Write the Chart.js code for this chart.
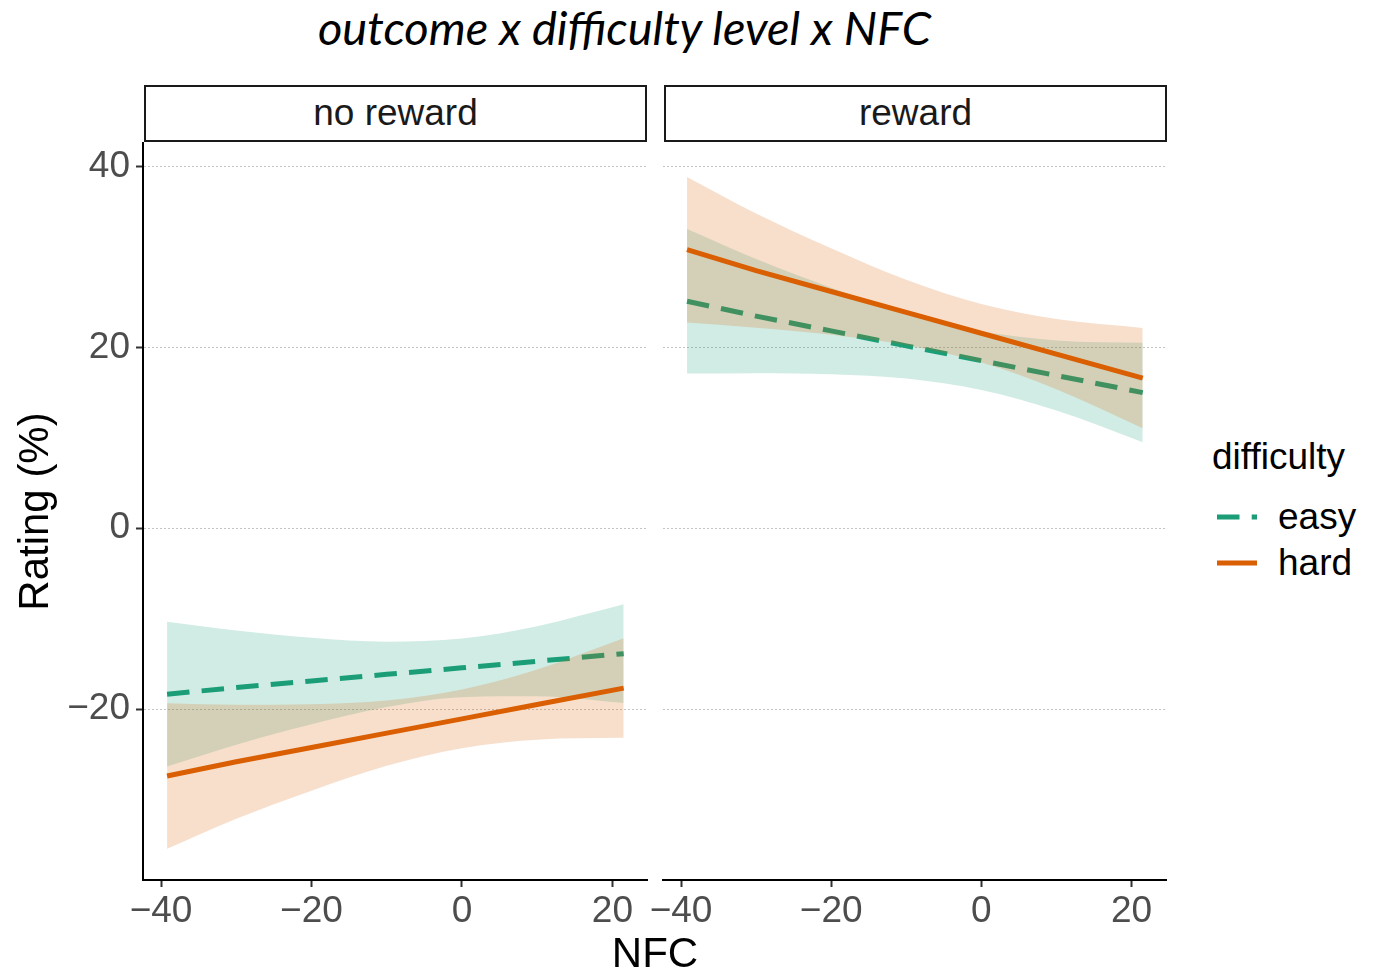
<!DOCTYPE html>
<html><head><meta charset="utf-8">
<script src="https://cdn.jsdelivr.net/npm/chart.js@4/dist/chart.umd.min.js"></script>
<style>
html,body{margin:0;padding:0;background:#fff;}
body{width:1375px;height:972px;overflow:hidden;position:relative;font-family:"Liberation Sans",Arial,sans-serif;}
#title{position:absolute;left:0;width:1249px;top:-1px;text-align:center;font-family:Lato,"Open Sans",sans-serif;font-style:italic;font-size:47px;color:#000;line-height:56px;white-space:nowrap;}
.strip{position:absolute;top:85px;height:57px;box-sizing:border-box;border:2px solid #1a1a1a;background:#fff;text-align:center;font-size:37px;line-height:52px;color:#1a1a1a;}
canvas{position:absolute;}
#xtitle{position:absolute;left:555px;width:200px;top:928px;text-align:center;font-size:42px;line-height:50px;color:#000;}
#legend{position:absolute;left:1212px;top:432px;color:#000;}
#legend .lt{font-size:37px;line-height:50px;}
#legend .row{position:relative;height:46px;}
#legend .row svg{position:absolute;left:3px;top:0;}
#legend .row span{position:absolute;left:66px;top:0;font-size:37px;line-height:46px;}
</style>
</head><body>
<div id="title">outcome x difficulty level x NFC</div>
<div class="strip" style="left:144px;width:503px;">no reward</div>
<div class="strip" style="left:664px;width:503px;">reward</div>
<canvas id="cA" width="660" height="842" style="left:0;top:130px;width:660px;height:842px;"></canvas>
<canvas id="cB" width="540" height="842" style="left:640px;top:130px;width:540px;height:842px;"></canvas>
<div id="xtitle">NFC</div>
<div id="legend">
  <div class="lt">difficulty</div>
  <div style="height:12px"></div>
  <div class="row"><svg width="50" height="46"><line x1="2" y1="23" x2="42" y2="23" stroke="#1B9E77" stroke-width="5" stroke-dasharray="22.5 12.2"/></svg><span>easy</span></div>
  <div class="row"><svg width="50" height="46"><line x1="2" y1="23" x2="42" y2="23" stroke="#D95F02" stroke-width="5"/></svg><span>hard</span></div>
</div>
<script>
// ---- data ----
const nfc = [-39.2, -30, -20, -10, 0, 10, 21.5];
const xTicks = [-40, -20, 0, 20];
const yTicks = [-20, 0, 20, 40];
const panels = ['no reward', 'reward'];
const difficulties = ['easy', 'hard'];

const noRewardEasyFit   = [-18.35, -17.62, -16.89, -16.16, -15.44, -14.71, -13.87];
const noRewardEasyLower = [-26.35, -23.93, -21.67, -19.77, -18.68, -18.59, -19.32];
const noRewardEasyUpper = [-10.35, -11.31, -12.11, -12.55, -12.20, -10.83, -8.42];

const noRewardHardFit   = [-27.40, -25.82, -24.24, -22.66, -21.08, -19.50, -17.68];
const noRewardHardLower = [-35.45, -32.13, -29.02, -26.27, -24.32, -23.38, -23.18];
const noRewardHardUpper = [-19.35, -19.51, -19.46, -19.05, -17.84, -15.62, -12.18];

const rewardEasyFit   = [25.10, 23.46, 21.82, 20.17, 18.53, 16.89, 15.00];
const rewardEasyLower = [17.10, 17.15, 17.04, 16.56, 15.29, 13.01, 9.50];
const rewardEasyUpper = [33.10, 29.77, 26.60, 23.78, 21.77, 20.77, 20.50];

const rewardHardFit   = [30.80, 28.49, 26.18, 23.87, 21.56, 19.25, 16.60];
const rewardHardLower = [22.75, 22.18, 21.40, 20.26, 18.32, 15.37, 11.05];
const rewardHardUpper = [38.85, 34.80, 30.96, 27.48, 24.80, 23.13, 22.15];

// ---- styling ----
const EASY = '#1B9E77', HARD = '#D95F02';
const EASY_FILL = 'rgba(27,158,119,0.2)', HARD_FILL = 'rgba(217,95,2,0.2)';
const FONT = 'Liberation Sans';
const pts = arr => arr.map((v, i) => ({x: nfc[i], y: v}));
const fmt = v => (v < 0 ? '\u2212' + Math.abs(v) : String(v));

function datasets(eFit, eLo, eUp, hFit, hLo, hUp) {
  const band = {pointRadius: 0, borderWidth: 0, borderColor: 'rgba(0,0,0,0)', cubicInterpolationMode: 'monotone'};
  return [
    Object.assign({label: 'easy lower', data: pts(eLo), fill: false, order: 6}, band),
    Object.assign({label: 'easy band', data: pts(eUp), fill: {target: 0}, backgroundColor: EASY_FILL, order: 5}, band),
    {label: difficulties[0], data: pts(eFit), borderColor: EASY, borderWidth: 5, borderDash: [22.5, 12.2], pointRadius: 0, fill: false, tension: 0, order: 4},
    Object.assign({label: 'hard lower', data: pts(hLo), fill: false, order: 3}, band),
    Object.assign({label: 'hard band', data: pts(hUp), fill: {target: 3}, backgroundColor: HARD_FILL, order: 2}, band),
    {label: difficulties[1], data: pts(hFit), borderColor: HARD, borderWidth: 5, pointRadius: 0, fill: false, tension: 0, order: 1}
  ];
}

function makeChart(id, ds, isLeft) {
  return new Chart(document.getElementById(id), {
    type: 'line',
    data: {datasets: ds},
    options: {
      responsive: false, animation: false, devicePixelRatio: 1,
      layout: {padding: isLeft ? {left: 0, right: 13, top: 13, bottom: 0} : {left: 23, right: 14, top: 13, bottom: 0}},
      plugins: {legend: {display: false}, tooltip: {enabled: false}, filler: {propagate: false}},
      scales: {
        x: {
          type: 'linear', min: -42.4, max: 24.6,
          afterBuildTicks: s => { s.ticks = xTicks.map(v => ({value: v})); },
          afterFit: s => { s.height = 92; s.paddingLeft = 0; s.paddingRight = 0; },
          ticks: {font: {family: FONT, size: 37}, color: '#4D4D4D', padding: 3, maxRotation: 0, autoSkip: false, callback: v => fmt(v)},
          grid: {drawOnChartArea: false, drawTicks: true, tickLength: 7, tickColor: '#333333', tickWidth: 2, color: 'rgba(0,0,0,0)'},
          border: {display: true, color: '#000', width: 2}
        },
        y: {
          type: 'linear', min: -38.9, max: 42.6,
          afterBuildTicks: s => { s.ticks = yTicks.map(v => ({value: v})); },
          afterFit: s => { s.width = isLeft ? 143 : 0; s.paddingTop = 0; s.paddingBottom = 0; },
          ticks: {display: isLeft, font: {family: FONT, size: 37}, color: '#4D4D4D', padding: 6, autoSkip: false, callback: v => fmt(v)},
          grid: {drawOnChartArea: true, color: '#c4c4c4', lineWidth: 1, drawTicks: isLeft, tickLength: 7, tickColor: '#333333', tickWidth: 2, tickBorderDash: []},
          border: {display: isLeft, color: '#000', width: 2, dash: [2, 2]},
          title: {display: isLeft, text: 'Rating (%)', font: {family: FONT, size: 42}, color: '#000', padding: {top: 11, bottom: 0}}
        }
      }
    }
  });
}

makeChart('cA', datasets(noRewardEasyFit, noRewardEasyLower, noRewardEasyUpper, noRewardHardFit, noRewardHardLower, noRewardHardUpper), true);
makeChart('cB', datasets(rewardEasyFit, rewardEasyLower, rewardEasyUpper, rewardHardFit, rewardHardLower, rewardHardUpper), false);
</script>
</body></html>
